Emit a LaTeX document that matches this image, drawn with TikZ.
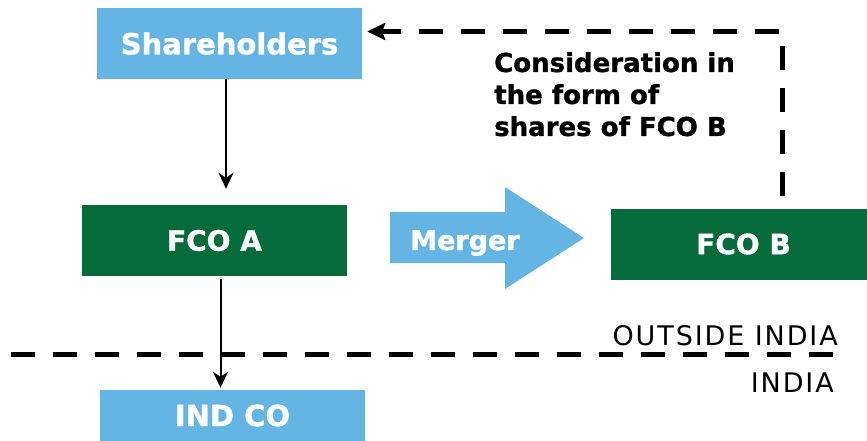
\documentclass[tikz,border=0pt]{standalone}
\usepackage{fontspec}
\setmainfont{DejaVu Sans}[BoldFeatures={FakeBold=1.2}]
\usetikzlibrary{arrows.meta}
\definecolor{skyblue}{RGB}{101,181,228}
\definecolor{deepgreen}{RGB}{6,107,58}
\begin{document}
\begin{tikzpicture}[x=1pt,y=-1pt,
  box/.style={rectangle, inner sep=0pt, minimum width=265pt, text=white,
    font=\bfseries\fontsize{28}{34}\selectfont},
  bluebox/.style={box, fill=skyblue},
  greenbox/.style={box, fill=deepgreen, minimum height=71pt},
  flow/.style={line width=2pt, -{Stealth[length=16pt,width=15pt,inset=5pt]}},
  feedback/.style={line width=5pt, dash pattern=on 24pt off 18pt,
    -{Stealth[length=18pt,width=17pt,inset=3pt]}},
  border/.style={line width=5.5pt, dash pattern=on 24pt off 18pt},
  plain/.style={inner sep=0pt,
    font=\fontsize{27}{31}\selectfont\addfontfeatures{LetterSpace=7}},
]
\useasboundingbox (0,0) rectangle (867,441);

% companies
\node[bluebox, minimum height=71pt, font=\bfseries\fontsize{29}{34}\selectfont]
  (sh) at (229.5,43.5) {Shareholders};
\node[greenbox] (fcoa) at (214.5,240.5) {FCO A};
\node[greenbox] (fcob) at (743.5,244) {FCO B};
\node[bluebox, minimum height=51pt, font=\bfseries\fontsize{29}{34}\selectfont]
  (indco) at (232.5,415.5) {IND CO};

% merger arrow
\fill[skyblue] (390,212) -- (505,212) -- (505,187) -- (584,238)
  -- (505,289) -- (505,263) -- (390,263) -- cycle;
\node[anchor=base west, inner sep=0pt, text=white,
  font=\bfseries\fontsize{27}{32}\selectfont] (merger) at (410,250) {Merger};

% border between the two jurisdictions
\coordinate (bl) at (11,354.5);
\coordinate (br) at (833,354.5);
\draw[border] (bl) -- (br);
\node[plain, anchor=base east] (outside) at (838,345) {OUTSIDE INDIA};
\node[plain, anchor=base east] (india) at (834,392) {INDIA};

% holdings
\coordinate (s1) at ([xshift=-3.5pt]sh.south);
\draw[flow, shorten >=16pt] (s1) -- (s1 |- fcoa.north);
\coordinate (a1) at ([xshift=6pt]fcoa.south);
\draw[flow, shorten <=3pt, shorten >=2pt] (a1) -- (a1 |- indco.north);

% consideration back to the shareholders
\coordinate (fb0) at ([xshift=39pt,yshift=12pt]fcob.north);
\coordinate (fb1) at ([xshift=5pt,yshift=12pt]sh.east);
\draw[feedback] (fb0) |- (fb1);
\node[anchor=north west, align=left, inner sep=0pt,
  font=\bfseries\fontsize{26}{32}\selectfont] (consid) at (494,52)
  {Consideration in\\the form of\\shares of FCO B};
\end{tikzpicture}
\end{document}
